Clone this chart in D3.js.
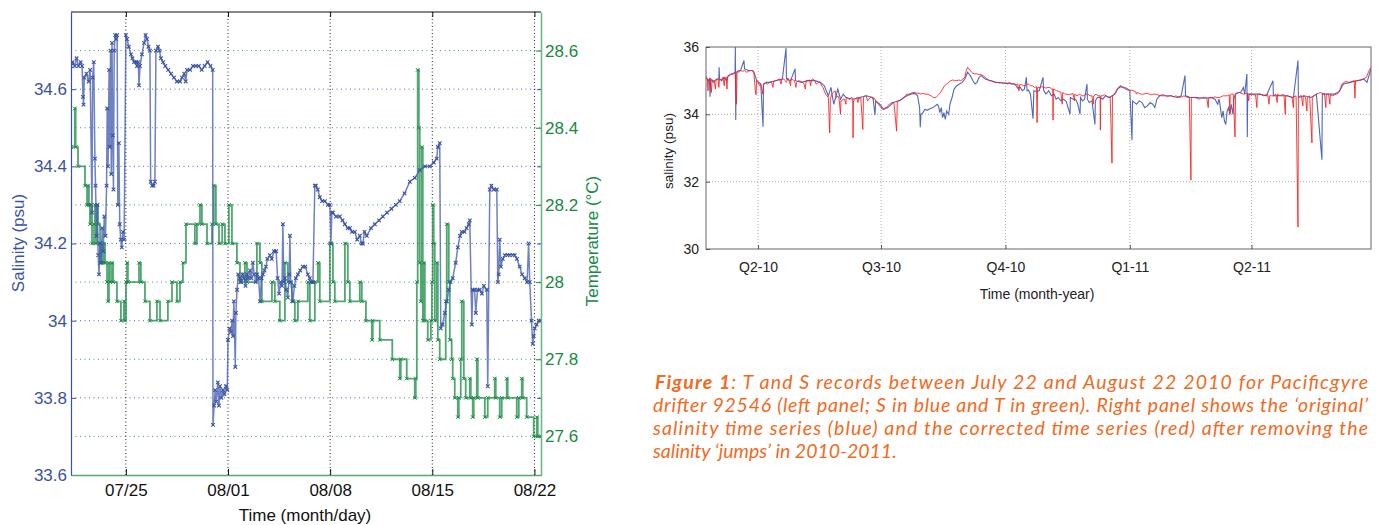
<!DOCTYPE html>
<html>
<head>
<meta charset="utf-8">
<script src="https://cdn.jsdelivr.net/npm/d3@7"></script>
<style>
  html, body { margin: 0; padding: 0; background: #fff; }
  svg { display: block; }
</style>
</head>
<body>
<div id="chart"></div>
<script>
// left panel, drifter 92546: time as July day number (Aug 1 = 32)
const salinityLeft = [
  [21.24,34.66],[21.35,34.67],[21.5,34.66],[21.62,34.68],[21.75,34.66],[21.9,34.67],[22.0,34.66],[22.06,34.58],[22.1,34.56],
  [22.15,34.63],[22.3,34.64],[22.45,34.62],[22.55,34.65],[22.68,34.28],[22.72,34.63],[22.8,34.67],[22.88,34.42],[22.92,34.35],
  [23.0,34.22],[23.05,34.30],[23.1,34.17],[23.16,34.12],[23.22,34.20],[23.3,34.15],[23.38,34.24],[23.45,34.18],[23.52,34.27],
  [23.6,34.22],[23.68,34.35],[23.72,34.55],[23.78,34.40],[23.85,34.65],[23.9,34.45],[23.95,34.70],[24.0,34.38],[24.05,34.72],
  [24.1,34.48],[24.15,34.34],[24.2,34.70],[24.27,34.74],[24.33,34.73],[24.4,34.74],[24.45,34.30],[24.52,34.46],[24.58,34.25],
  [24.65,34.21],[24.72,34.19],[24.8,34.23],[24.88,34.21],[25.0,34.74],[25.08,34.73],[25.2,34.71],[25.35,34.69],[25.45,34.68],
  [25.56,34.67],[25.7,34.67],[25.76,34.66],[25.85,34.67],[25.9,34.61],[25.97,34.66],[26.1,34.69],[26.25,34.72],[26.35,34.74],
  [26.45,34.73],[26.55,34.71],[26.65,34.70],[26.7,34.36],[26.8,34.35],[26.9,34.35],[26.99,34.36],[27.06,34.70],[27.2,34.71],
  [27.3,34.70],[27.4,34.68],[27.55,34.67],[27.7,34.66],[27.9,34.65],[28.1,34.64],[28.3,34.63],[28.5,34.62],[28.71,34.62],
  [28.85,34.63],[29.0,34.64],[29.1,34.62],[29.2,34.65],[29.4,34.65],[29.6,34.66],[29.8,34.66],[30.0,34.66],[30.2,34.65],
  [30.4,34.66],[30.6,34.67],[30.8,34.66],[30.95,34.65],[30.97,33.73],[31.05,33.78],[31.12,33.82],[31.2,33.79],[31.3,33.84],
  [31.38,33.78],[31.45,33.83],[31.55,33.80],[31.65,33.82],[31.75,33.81],[31.85,33.83],[31.95,33.82],[32.0,33.95],[32.1,33.98],
  [32.2,33.97],[32.28,34.00],[32.34,33.96],[32.4,34.05],[32.5,33.88],[32.54,34.02],[32.62,34.08],[32.7,34.12],[32.82,34.11],
  [32.9,34.10],[33.0,34.12],[33.1,34.11],[33.2,34.09],[33.3,34.12],[33.4,34.11],[33.5,34.13],[33.6,34.11],[33.7,34.15],
  [33.8,34.12],[33.9,34.10],[34.0,34.12],[34.1,34.11],[34.19,34.05],[34.3,34.11],[34.39,34.12],[34.5,34.13],[34.6,34.14],
  [34.7,34.16],[34.87,34.17],[35.0,34.16],[35.15,34.18],[35.3,34.18],[35.4,34.11],[35.5,34.07],[35.6,34.10],[35.7,34.09],
  [35.76,34.25],[35.82,34.10],[35.9,34.11],[36.0,34.08],[36.1,34.06],[36.2,34.12],[36.24,34.22],[36.3,34.10],[36.45,34.05],
  [36.55,34.09],[36.65,34.11],[36.79,34.12],[36.95,34.13],[37.13,34.14],[37.3,34.14],[37.47,34.12],[37.6,34.11],[37.7,34.10],
  [37.82,34.10],[37.95,34.35],[38.02,34.35],[38.15,34.34],[38.29,34.32],[38.45,34.31],[38.64,34.31],[38.85,34.30],[38.98,34.30],
  [39.05,34.20],[39.12,34.28],[39.19,34.28],[39.4,34.27],[39.66,34.27],[39.85,34.26],[40.01,34.25],[40.2,34.24],[40.35,34.24],
  [40.5,34.23],[40.69,34.23],[40.85,34.21],[41.03,34.22],[41.15,34.20],[41.24,34.20],[41.35,34.23],[41.51,34.22],[41.8,34.24],
  [42.06,34.25],[42.35,34.26],[42.61,34.27],[42.9,34.28],[43.2,34.29],[43.5,34.30],[43.77,34.31],[44.1,34.33],[44.46,34.36],
  [44.8,34.37],[45.14,34.39],[45.5,34.40],[45.83,34.40],[46.1,34.41],[46.3,34.42],[46.38,34.45],[46.51,34.46],[46.58,33.98],
  [46.7,33.99],[46.86,34.02],[47.0,34.05],[47.13,34.08],[47.25,34.10],[47.4,34.11],[47.6,34.15],[47.75,34.19],[47.9,34.22],
  [48.02,34.23],[48.2,34.23],[48.35,34.24],[48.5,34.25],[48.57,34.26],[48.71,33.99],[48.77,34.08],[48.9,34.08],[48.98,34.02],
  [49.1,34.08],[49.25,34.08],[49.4,34.07],[49.53,34.09],[49.73,34.08],[49.8,33.83],[49.94,34.34],[50.05,34.35],[50.21,34.34],
  [50.42,34.34],[50.49,34.10],[50.55,34.12],[50.62,34.21],[50.7,34.14],[50.83,34.16],[50.97,34.17],[51.15,34.17],[51.31,34.17],
  [51.5,34.17],[51.65,34.17],[51.8,34.16],[51.99,34.14],[52.15,34.12],[52.34,34.11],[52.5,34.10],[52.6,34.20],[52.68,34.10],
  [52.8,34.00],[52.88,33.94],[52.95,33.96],[53.02,33.98],[53.15,33.99],[53.3,34.00],[53.43,34.00]
];
const temperatureLeft = [
  [21.24,28.35],[21.5,28.45],[21.56,28.35],[21.72,28.3],[22.2,28.25],[22.34,28.2],[22.4,28.25],[22.47,28.2],[22.54,28.15],
  [22.61,28.2],[22.68,28.1],[22.82,28.15],[22.88,28.2],[22.95,28.1],[23.02,28.2],[23.09,28.15],[23.23,28.05],[23.3,28.1],
  [23.43,28.05],[23.5,28.1],[23.57,28.05],[23.71,28.0],[23.77,27.95],[23.84,28.05],[23.91,28.0],[24.05,28.05],[24.12,28.0],
  [24.39,27.95],[24.66,27.9],[24.87,27.95],[24.94,27.9],[25.01,28.0],[25.08,28.05],[25.14,28.0],[25.9,28.05],[26.03,28.0],
  [26.31,27.95],[26.65,27.9],[27.13,27.95],[27.34,27.9],[27.88,27.95],[28.16,28.0],[28.5,27.95],[28.71,28.0],[28.91,28.05],
  [29.12,28.15],[29.73,28.1],[29.87,28.15],[30.08,28.2],[30.21,28.15],[30.56,28.1],[30.9,28.15],[31.03,28.25],[31.17,28.15],
  [31.38,28.1],[31.6,28.15],[31.79,28.1],[32.06,28.2],[32.27,28.1],[32.61,28.05],[32.82,28.0],[33.16,28.05],[33.3,28.0],
  [33.98,28.1],[34.19,28.05],[34.32,27.95],[35.01,28.0],[35.21,27.95],[35.55,27.9],[35.9,28.05],[36.1,28.0],[36.38,27.95],
  [36.58,27.9],[36.79,27.95],[37.47,28.0],[37.61,27.9],[37.95,28.0],[38.16,28.05],[38.29,27.95],[38.98,28.1],[39.19,28.0],
  [39.32,27.95],[40.01,28.1],[40.21,28.0],[40.35,27.95],[41.03,28.0],[41.17,27.95],[41.45,27.9],[41.86,27.85],[41.92,27.9],
  [42.4,27.85],[43.26,27.8],[43.77,27.75],[43.84,27.8],[44.25,27.75],[44.8,27.7],[44.87,27.75],[44.94,28.0],[45.0,28.55],
  [45.08,28.4],[45.14,28.05],[45.21,27.95],[45.28,28.35],[45.35,27.9],[45.42,28.05],[45.49,27.9],[45.69,27.85],[45.9,27.9],
  [45.97,28.0],[46.03,28.2],[46.1,28.1],[46.17,27.9],[46.31,28.05],[46.38,27.85],[46.51,27.8],[46.92,27.95],[46.99,28.15],
  [47.13,28.0],[47.2,27.85],[47.33,27.8],[47.4,27.75],[47.54,27.7],[47.75,27.65],[47.82,27.7],[47.95,27.8],[48.02,27.95],
  [48.16,27.75],[48.29,27.7],[48.57,27.75],[48.64,27.7],[48.77,27.65],[48.84,27.7],[49.05,27.8],[49.12,27.7],[49.6,27.65],
  [49.8,27.7],[50.28,27.75],[50.35,27.7],[50.62,27.65],[50.76,27.7],[51.1,27.75],[51.17,27.7],[51.79,27.65],[51.93,27.7],
  [52.13,27.75],[52.2,27.7],[52.47,27.65],[52.95,27.6],[53.16,27.65],[53.23,27.6],[53.45,27.6]
];
const dateTicksLeft = [25, 32, 39, 46, 53];
const salinityTicks = [33.6, 33.8, 34, 34.2, 34.4, 34.6];
const temperatureTicks = [27.6, 27.8, 28, 28.2, 28.4, 28.6];

// right panel: time as days since 2010-01-01
const salinityOriginal = [
  [51.5,35.1],[53,35.0],[54,35.05],[54.5,34.52],[55,35.05],[57,34.95],[58,35.0],[59.5,35.05],[61,35.05],[61.2,35.4],[61.5,35.05],
  [63,35.0],[65,35.1],[66.5,35.0],[68,35.15],[70,35.2],[71,35.2],[73,35.25],[73.2,36.0],[73.5,33.83],[73.8,35.25],[76,35.3],
  [77,35.3],[79.6,35.6],[80,35.35],[83,35.3],[86,35.3],[87,35.25],[89,35.0],[92,34.9],[93.7,33.63],[94,34.9],[96,34.95],
  [98,34.95],[103,35.0],[108,35.05],[110.7,35.97],[111,35.05],[114,35.0],[117.4,35.35],[117.7,35.0],[122,34.95],[127,35.0],
  [132,35.0],[136,34.95],[139,34.85],[142,34.55],[144,34.8],[144.5,34.65],[146,34.3],[148,34.6],[149,34.75],[151,34.45],
  [153,34.6],[155,34.5],[160,34.45],[165,34.5],[170,34.55],[175,34.5],[176.5,33.98],[177,34.4],[180,34.3],[183,34.15],
  [186,34.2],[190,34.35],[194,34.4],[198,34.5],[200,34.55],[203,34.6],[206,34.62],[208,34.55],[209.5,34.2],[210,33.62],
  [210.5,34.0],[212,34.05],[213.5,34.15],[215,34.12],[216.5,34.15],[218,34.18],[219.5,34.2],[221,34.25],[222.5,34.3],
  [223.5,34.25],[224.5,34.05],[225.5,34.2],[226.5,33.9],[227.5,34.05],[228.5,33.85],[229.5,34.1],[231,34.0],[232,34.3],
  [233.5,34.5],[235,34.75],[237,34.85],[239,34.9],[241,34.95],[243,35.05],[245,35.25],[247,35.15],[249,35.0],[250.5,34.9],
  [252,34.95],[253.5,35.1],[255,35.15],[258,35.05],[262,35.0],[266,34.95],[270,34.94],[275,34.92],[280,34.9],[282,34.78],
  [284,34.8],[285.5,34.7],[287,34.75],[288.5,35.1],[289,34.7],[290,34.72],[291.5,34.6],[293.4,33.87],[294,34.7],
  [296,34.68],[298,34.7],[300.8,35.1],[301.2,34.72],[303,34.6],[305,34.7],[307,34.55],[309,34.6],[310.5,34.45],[312,34.5],
  [314,34.4],[316,34.45],[318,34.38],[320.8,34.0],[321,34.5],[323,34.45],[325,34.45],[326.5,34.3],[328.2,34.0],[328.5,34.5],
  [330,34.4],[331.5,34.45],[333.3,34.9],[333.6,34.45],[335,34.35],[337,34.4],[339.2,33.7],[339.5,34.4],[341,34.5],[343,34.5],
  [345,34.45],[347,34.55],[350,34.5],[352,34.55],[354,34.6],[356,34.75],[358,34.82],[360,34.8],[362,34.75],[365,34.7],
  [366.6,33.24],[367,34.4],[368.5,34.35],[370,34.3],[372,34.4],[374,34.35],[376,34.2],[378,34.25],[380,34.35],[382,34.3],
  [383.5,34.2],[385,34.45],[387,34.55],[390,34.55],[395,34.55],[400,34.5],[403,34.55],[405.8,35.15],[406.2,34.55],[410,34.5],
  [415,34.5],[420,34.48],[425,34.5],[428,34.45],[430,34.3],[431,34.45],[432,34.2],[433,33.9],[434,34.1],[435,33.8],
  [436,33.7],[437,34.1],[438,34.2],[439,34.0],[440,34.3],[441.3,34.0],[442,34.45],[443,34.6],[445,34.65],[447,34.65],
  [449,34.8],[450,34.6],[451.6,35.2],[451.9,33.33],[452.2,34.6],[456,34.6],[461,34.6],[466,34.55],[470.9,35.0],[471.2,34.55],
  [476,34.55],[481,34.55],[486,34.5],[489.4,35.6],[489.7,34.5],[494,34.55],[499,34.5],[503,34.6],[507.1,32.65],[507.4,34.6],
  [512,34.6],[516,34.6],[520,34.68],[523,34.9],[528,34.95],[533,35.0],[538,35.05],[540.4,34.95],[543.4,35.35]
];
const salinityCorrected = [
  [51.5,35.12],[52.5,35.05],[53,34.7],[53.3,35.0],[54.5,35.08],[55.5,34.65],[56,35.02],[57.5,35.0],[58.5,34.75],[59,35.02],
  [60.5,35.05],[61,34.8],[61.5,35.05],[63,35.02],[64,35.1],[65,34.85],[65.5,35.08],[66.5,35.1],[67,34.75],[67.5,35.12],
  [69,35.15],[70,35.2],[71.5,35.18],[73,35.25],[74,34.3],[74.5,35.27],[76,35.25],[77,35.3],[78.5,35.28],[80,35.3],[81.5,35.25],
  [83,35.28],[84.5,35.3],[86,35.3],[87,35.2],[88,34.7],[88.5,34.58],[89,35.0],[90,34.95],[91,34.85],[92,34.9],[93.5,34.6],
  [94,34.88],[95.5,34.92],[97,34.9],[98.5,34.95],[100,34.95],[101,34.8],[101.5,34.98],[103,35.0],[104.5,35.02],[106,35.05],
  [107,34.9],[107.5,35.05],[109,35.05],[110,35.0],[111,34.95],[112,35.08],[113,35.0],[114,34.85],[114.5,35.05],[116,35.02],
  [117,35.0],[118,34.8],[118.5,34.95],[120,35.0],[121.5,34.98],[123,34.95],[124,34.9],[125,34.75],[125.5,35.0],[127,35.0],
  [128,35.02],[129,34.85],[129.5,35.02],[130.5,35.05],[132,35.0],[133,34.9],[134,34.92],[135,34.95],[136,34.95],[137,34.85],
  [138,34.8],[139,34.7],[140,34.6],[141,34.55],[142,34.5],[143,33.45],[143.5,34.45],[144.5,34.6],[145.5,34.65],[147,34.7],
  [148,34.5],[149,34.55],[150,34.45],[151,34.0],[151.3,34.4],[152,34.4],[153,34.45],[154,34.45],[155,34.3],[155.3,34.5],
  [156,34.5],[157,34.45],[158,34.45],[159,34.5],[160,34.48],[160.3,33.3],[160.6,34.4],[162,34.45],[163,34.5],[164,34.35],
  [164.3,34.5],[165,34.45],[166,34.5],[167.5,33.55],[168,34.5],[169,34.55],[170,34.55],[171,34.4],[172,34.45],[173,34.5],
  [174,34.5],[175,34.45],[176,34.48],[177,34.4],[178,34.35],[179,34.3],[180,34.25],[181,34.2],[182,34.15],[183.5,34.18],
  [185,34.2],[186,34.25],[187,34.3],[188,34.32],[189,34.35],[190.5,34.35],[192.5,33.5],[193,34.38],[194,34.4],[195,34.4],
  [196.5,34.45],[198,34.5],[199,34.55],[200,34.6],[201.5,34.6],[203,34.62],[204.5,34.65],[206,34.65],[207.5,34.62],
  [209,34.63],[210.5,34.6],[212,34.62],[213.5,34.6],[215,34.6],[216.5,34.58],[218,34.55],[219,34.52],[220,34.5],[221,34.5],
  [222,34.52],[223.5,34.58],[225,34.65],[226.5,34.75],[228,34.85],[229.5,34.9],[231,34.95],[232.5,35.0],[234,35.02],
  [235.5,35.0],[237,35.0],[238.5,35.02],[240,35.0],[241.5,35.05],[243,35.1],[244,35.3],[245,35.4],[246,35.35],[247,35.3],
  [248,35.25],[249,35.22],[250.5,35.2],[252,35.2],[253.5,35.18],[255,35.18],[256.5,35.15],[258,35.1],[259.5,35.05],
  [261,35.0],[262.5,35.0],[264,34.98],[265.5,34.95],[267,34.95],[268.5,34.93],[270,34.94],[271.5,34.92],[273,34.93],
  [274.5,34.9],[276,34.95],[277.5,34.9],[279,34.9],[280.5,34.88],[282,34.9],[283,34.7],[283.5,34.88],[285,34.88],
  [286.5,34.85],[288,34.85],[289,34.9],[290,34.9],[291.5,34.85],[293,34.85],[294.5,34.8],[296,34.82],[296.4,33.75],
  [296.8,34.8],[298.5,34.8],[300,34.82],[301.5,34.8],[303,34.78],[304.5,34.8],[306,34.8],[307,34.75],[308,34.75],
  [308.2,33.83],[308.5,34.75],[310,34.72],[311,34.7],[312.5,34.68],[314,34.65],[315,34.3],[315.3,34.65],[316.5,34.62],
  [317,34.6],[318.5,34.6],[320,34.58],[321.5,34.6],[323,34.62],[324,34.4],[324.3,34.6],[326,34.55],[327,34.58],[328,34.6],
  [329.5,34.55],[331,34.55],[332.5,34.6],[334,34.6],[335.5,34.55],[337,34.55],[338,34.3],[338.3,34.55],[340,34.6],
  [341.5,34.55],[343,34.55],[343.2,33.53],[343.5,34.55],[345,34.55],[346,34.58],[347.5,34.55],[349,34.5],[350.5,34.52],
  [351.8,32.55],[352.2,34.55],[353.5,34.6],[355,34.7],[356.5,34.8],[358,34.85],[359.5,34.82],[361,34.8],[362.5,34.78],
  [364,34.75],[365,34.7],[366,34.72],[367.5,34.7],[369,34.68],[370,34.6],[370.5,34.65],[372,34.62],[373.5,34.6],[375,34.6],
  [376.5,34.62],[378,34.62],[379.5,34.6],[381,34.58],[382.5,34.6],[384,34.6],[385.5,34.58],[387,34.55],[388.5,34.58],
  [390,34.58],[391.5,34.55],[393,34.52],[394.5,34.55],[396,34.55],[397.5,34.52],[399,34.55],[400.5,34.52],[402,34.5],
  [403.5,34.52],[405,34.55],[406.5,34.52],[408,34.5],[409,34.5],[410.2,32.05],[410.5,34.5],[412,34.5],[413,34.5],
  [414.5,34.48],[416,34.45],[417.5,34.48],[419,34.5],[420.5,34.5],[422,34.48],[423,34.2],[423.3,34.48],[425,34.5],
  [426.5,34.5],[428,34.52],[429.5,34.5],[431,34.5],[432.5,34.52],[434,34.55],[435.5,34.55],[437,34.55],[438.5,34.58],
  [439,34.0],[439.3,34.58],[440,34.6],[441.5,34.6],[442.8,33.33],[443.2,34.6],[444.5,34.62],[446,34.65],[447.5,34.62],
  [449,34.6],[450.5,34.62],[452,34.62],[453,34.4],[453.3,34.6],[455,34.6],[456.5,34.58],[458,34.58],[459,34.2],[459.3,34.58],
  [461,34.6],[462.5,34.58],[464,34.55],[465.5,34.58],[467,34.58],[468,34.3],[468.3,34.55],[470,34.55],[471.5,34.55],
  [473,34.6],[474,34.35],[474.3,34.6],[476,34.55],[477.5,34.58],[479,34.58],[480,34.0],[480.3,34.55],[482,34.55],
  [483.5,34.52],[485,34.5],[486,34.2],[486.3,34.52],[488,34.55],[489.4,30.65],[489.7,34.5],[491,34.55],[492,34.55],
  [493,34.25],[493.3,34.55],[495,34.5],[496,34.1],[496.3,34.5],[498,34.55],[499.7,33.15],[500,34.5],[501.5,34.55],
  [503,34.6],[504.5,34.62],[506,34.65],[507.5,34.62],[509,34.62],[510,34.2],[510.3,34.6],[512,34.6],[513,34.3],[513.3,34.58],
  [515,34.55],[516.5,34.58],[518,34.6],[519,34.62],[520,34.68],[521,34.8],[522,34.9],[523.5,34.95],[525,34.98],[526.5,34.95],
  [528,34.95],[529.5,34.98],[531,35.0],[531.5,34.48],[532,35.0],[533.5,35.0],[535,35.0],[536.5,35.02],[538,35.05],
  [539,35.08],[540,35.1],[541,35.2],[542,35.3],[543.4,35.4]
];
const quarterTicks = [90, 181, 273, 365, 455];
const quarterLabels = ['Q2-10', 'Q3-10', 'Q4-10', 'Q1-11', 'Q2-11'];
const salinityTicksRight = [30, 32, 34, 36];

const captionLines = [
  ': T and S records between July 22 and August 22 2010 for Pacificgyre',
  'drifter 92546 (left panel; S in blue and T in green). Right panel shows the \u2018original\u2019',
  'salinity time series (blue) and the corrected time series (red) after removing the',
  'salinity \u2018jumps\u2019 in 2010-2011.'
];

const W = 1378, H = 525;
const DAY = 864e5;
const julyDay = t => new Date(Date.UTC(2010, 6, 1) + (t - 1) * DAY);
const yearDay = d => new Date(Date.UTC(2010, 0, 1) + d * DAY);
const fmt1 = d => String(+d.toFixed(1));

const blue = '#3a52a4', green = '#178a43';

const svg = d3.select('#chart').append('svg')
    .attr('width', W)
    .attr('height', H)
    .style('font-family', '"Liberation Sans", Arial, sans-serif');

svg.append('rect').attr('width', W).attr('height', H).style('fill', '#fff');

// ---------- left panel ----------
const L = {x0: 71, x1: 541, y0: 12, y1: 475};

const x = d3.scaleUtc().domain([julyDay(21.24), julyDay(53.45)]).range([L.x0, L.x1]);
const yS = d3.scaleLinear().domain([33.6, 34.8]).range([L.y1, L.y0]);
const yT = d3.scaleLinear().domain([27.5, 28.7]).range([L.y1, L.y0]);

const gridL = svg.append('g');
gridL.selectAll('.gt').data(temperatureTicks).join('line')
    .attr('x1', L.x0).attr('x2', L.x1)
    .attr('y1', d => yT(d)).attr('y2', d => yT(d))
    .style('stroke', '#3f9a63').style('stroke-width', 1).style('stroke-dasharray', '1,3.5');
gridL.selectAll('.gs').data(salinityTicks.slice(1)).join('line')
    .attr('x1', L.x0).attr('x2', L.x1)
    .attr('y1', d => yS(d)).attr('y2', d => yS(d))
    .style('stroke', '#5068b4').style('stroke-width', 1).style('stroke-dasharray', '1,3.5');
gridL.selectAll('.gx').data(dateTicksLeft).join('line')
    .attr('x1', d => x(julyDay(d))).attr('x2', d => x(julyDay(d)))
    .attr('y1', L.y0).attr('y2', L.y1)
    .style('stroke', '#222').style('stroke-width', 1).style('stroke-dasharray', '1,2.5');

svg.append('clipPath').attr('id', 'clipL').append('rect')
    .attr('x', L.x0).attr('y', L.y0).attr('width', L.x1 - L.x0).attr('height', L.y1 - L.y0);

const plotL = svg.append('g').attr('clip-path', 'url(#clipL)');
const marker = d3.symbol().type(d3.symbolTimes).size(10);

const lineT = d3.line()
    .curve(d3.curveStepAfter)
    .x(d => x(julyDay(d[0])))
    .y(d => yT(d[1]));
plotL.append('path')
    .attr('d', lineT(temperatureLeft))
    .style('fill', 'none').style('stroke', green).style('stroke-opacity', 0.75).style('stroke-width', 1.8);
plotL.selectAll('.mt').data(temperatureLeft).join('path')
    .attr('d', marker)
    .attr('transform', d => `translate(${x(julyDay(d[0]))},${yT(d[1])})`)
    .style('fill', 'none').style('stroke', green).style('stroke-width', 1);

const lineS = d3.line()
    .x(d => x(julyDay(d[0])))
    .y(d => yS(d[1]));
plotL.append('path')
    .attr('d', lineS(salinityLeft))
    .style('fill', 'none').style('stroke', '#4a62b2').style('stroke-opacity', 0.8).style('stroke-width', 1.5);
plotL.selectAll('.ms').data(salinityLeft).join('path')
    .attr('d', marker)
    .attr('transform', d => `translate(${x(julyDay(d[0]))},${yS(d[1])})`)
    .style('fill', 'none').style('stroke', blue).style('stroke-width', 1.1);

// frame and axes
svg.append('line')
    .attr('x1', L.x0).attr('x2', L.x1).attr('y1', L.y0).attr('y2', L.y0)
    .style('stroke', '#111').style('stroke-width', 1.2);

const axS = svg.append('g')
    .attr('transform', `translate(${L.x0},0)`)
    .call(d3.axisLeft(yS).tickValues(salinityTicks).tickFormat(fmt1).tickSize(-5).tickSizeOuter(0).tickPadding(4));
axS.select('.domain').style('stroke', blue).style('stroke-width', 1.2);
axS.selectAll('.tick line').style('stroke', blue);
axS.selectAll('text').style('fill', blue).style('font-size', '17px');

const axT = svg.append('g')
    .attr('transform', `translate(${L.x1},0)`)
    .call(d3.axisRight(yT).tickValues(temperatureTicks).tickFormat(fmt1).tickSize(-5).tickSizeOuter(0).tickPadding(4));
axT.select('.domain').style('stroke', '#6cb888').style('stroke-width', 1.6);
axT.selectAll('.tick line').style('stroke', green);
axT.selectAll('text').style('fill', green).style('font-size', '17px');

const axSR = svg.append('g')
    .attr('transform', `translate(${L.x1},0)`)
    .call(d3.axisRight(yS).tickValues(salinityTicks).tickFormat('').tickSize(-4).tickSizeOuter(0));
axSR.select('.domain').remove();
axSR.selectAll('.tick line').style('stroke', blue);

const axX = svg.append('g')
    .attr('transform', `translate(0,${L.y1})`)
    .call(d3.axisBottom(x).tickValues(dateTicksLeft.map(julyDay)).tickFormat(d3.utcFormat('%m/%d'))
        .tickSize(-6).tickSizeOuter(0).tickPadding(9));
axX.select('.domain').style('stroke', '#5aa872').style('stroke-width', 1.4);
axX.selectAll('.tick line').style('stroke', '#111');
axX.selectAll('text').style('fill', '#111').style('font-size', '17px');

const axXT = svg.append('g')
    .attr('transform', `translate(0,${L.y0})`)
    .call(d3.axisTop(x).tickValues(dateTicksLeft.map(julyDay)).tickFormat('').tickSize(-5).tickSizeOuter(0));
axXT.select('.domain').remove();
axXT.selectAll('.tick line').style('stroke', '#111');

svg.append('text')
    .attr('transform', 'translate(24,243) rotate(-90)')
    .attr('text-anchor', 'middle')
    .style('fill', blue).style('font-size', '17px')
    .text('Salinity (psu)');
svg.append('text')
    .attr('transform', 'translate(598,241) rotate(-90)')
    .attr('text-anchor', 'middle')
    .style('fill', green).style('font-size', '17px')
    .text('Temperature (\u00B0C)');
svg.append('text')
    .attr('x', 305).attr('y', 521)
    .attr('text-anchor', 'middle')
    .style('fill', '#111').style('font-size', '17px')
    .text('Time (month/day)');

// ---------- right panel ----------
const R = {x0: 706, x1: 1371, y0: 47, y1: 249};

const xr = d3.scaleUtc().domain([yearDay(51.5), yearDay(543.4)]).range([R.x0, R.x1]);
const yr = d3.scaleLinear().domain([30, 36]).range([R.y1, R.y0]);

const gridR = svg.append('g');
gridR.selectAll('.gy').data([32, 34]).join('line')
    .attr('x1', R.x0).attr('x2', R.x1)
    .attr('y1', d => yr(d)).attr('y2', d => yr(d))
    .style('stroke', '#9a9a9a').style('stroke-width', 0.8).style('stroke-dasharray', '1,2');
gridR.selectAll('.gx').data(quarterTicks).join('line')
    .attr('x1', d => xr(yearDay(d))).attr('x2', d => xr(yearDay(d)))
    .attr('y1', R.y0).attr('y2', R.y1)
    .style('stroke', '#9a9a9a').style('stroke-width', 0.8).style('stroke-dasharray', '1,2');

svg.append('clipPath').attr('id', 'clipR').append('rect')
    .attr('x', R.x0).attr('y', R.y0).attr('width', R.x1 - R.x0).attr('height', R.y1 - R.y0);
const plotR = svg.append('g').attr('clip-path', 'url(#clipR)');

const lineR = d3.line()
    .x(d => xr(yearDay(d[0])))
    .y(d => yr(d[1]));
plotR.append('path')
    .attr('d', lineR(salinityOriginal))
    .style('fill', 'none').style('stroke', '#2f4fb0').style('stroke-opacity', 0.85).style('stroke-width', 1.1);
plotR.append('path')
    .attr('d', lineR(salinityCorrected))
    .style('fill', 'none').style('stroke', '#ff1c1c').style('stroke-opacity', 0.85).style('stroke-width', 1);

svg.append('rect')
    .attr('x', R.x0).attr('y', R.y0).attr('width', R.x1 - R.x0).attr('height', R.y1 - R.y0)
    .style('fill', 'none').style('stroke', '#666').style('stroke-width', 1);

const axYR = svg.append('g')
    .attr('transform', `translate(${R.x0},0)`)
    .call(d3.axisLeft(yr).tickValues(salinityTicksRight).tickFormat(d3.format('d')).tickSize(-4).tickSizeOuter(0).tickPadding(7));
axYR.select('.domain').remove();
axYR.selectAll('.tick line').style('stroke', '#555');
axYR.selectAll('text').style('fill', '#222').style('font-size', '14px');

const axXR = svg.append('g')
    .attr('transform', `translate(0,${R.y1})`)
    .call(d3.axisBottom(xr).tickValues(quarterTicks.map(yearDay)).tickFormat((d, i) => quarterLabels[i])
        .tickSize(-4).tickSizeOuter(0).tickPadding(13));
axXR.select('.domain').remove();
axXR.selectAll('.tick line').style('stroke', '#555');
axXR.selectAll('text').style('fill', '#222').style('font-size', '14px');

svg.append('text')
    .attr('transform', 'translate(673,151) rotate(-90)')
    .attr('text-anchor', 'middle')
    .style('fill', '#222').style('font-size', '13.5px')
    .text('salinity (psu)');
svg.append('text')
    .attr('x', 1037).attr('y', 299)
    .attr('text-anchor', 'middle')
    .style('fill', '#222').style('font-size', '14px')
    .text('Time (month-year)');

// ---------- caption ----------
const cap = svg.append('g')
    .style('font-family', 'Lato, "Open Sans", sans-serif')
    .style('font-style', 'italic')
    .style('font-size', '19.5px')
    .style('fill', '#f26a22');

captionLines.forEach((line, i) => {
    const t = cap.append('text')
        .attr('x', i === 0 ? 655 : 653)
        .attr('y', 389 + i * 23);
    if (i === 0) {
        t.append('tspan').style('font-weight', 'bold').text('Figure 1');
    }
    t.append('tspan').text(line);
    if (i < captionLines.length - 1) {
        t.attr('textLength', i === 0 ? 713 : 715).attr('lengthAdjust', 'spacing');
    }
});
</script>
</body>
</html>
